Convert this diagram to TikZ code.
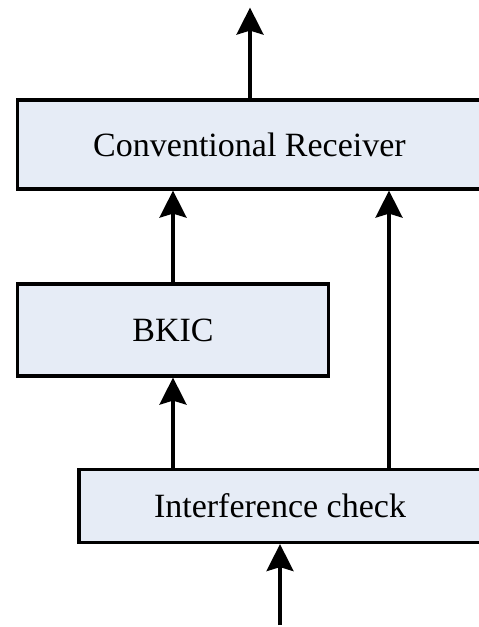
\documentclass[tikz,border=0pt]{standalone}
\usepackage{fontspec}
\setmainfont{Liberation Serif}
\usetikzlibrary{arrows.meta}
\usetikzlibrary{positioning}
\definecolor{boxfill}{RGB}{230,236,246}

\begin{document}
\begin{tikzpicture}[x=1pt, y=-1pt, line cap=butt, line join=miter,
  >={Stealth[length=27pt, width=27pt, inset=4pt]},
  block/.style={draw, line width=3.2pt, fill=boxfill, outer sep=0pt, inner sep=0pt,
    font=\fontsize{34}{40}\selectfont},
  flow/.style={->, line width=3.4pt, shorten >=1.6pt}]
  \useasboundingbox (0, 0) rectangle (479, 627);
  \clip (0, 0) rectangle (479, 627);
  %--- Conventional Receiver
    \node[block, minimum width=464pt, minimum height=89pt] (receiver) at (249.5, 144.5) {Conventional Receiver};
  %--- BKIC
    \node[block, minimum width=310.6pt, minimum height=92pt] (bkic) at (173, 330) {BKIC};
  %--- Interference check
    \node[block, minimum width=402pt, minimum height=73pt] (check) at (280, 506) {Interference check};
  %--- free ends
    \coordinate (out) at (250, 6);
    \coordinate (in) at (280, 625);
  %--- output
    \draw[flow] (receiver.north -| out) -- (out);
  %--- BKIC to receiver
    \draw[flow] (bkic.north) -- (bkic.north |- receiver.south);
  %--- check to BKIC
    \draw[flow] (bkic.south |- check.north) -- (bkic.south);
  %--- check to receiver
    \draw[flow] ([xshift=109pt]check.north) -- ([xshift=109pt]check.north |- receiver.south);
  %--- input
    \draw[flow] (in) -- (check.south);
\end{tikzpicture}
\end{document}
